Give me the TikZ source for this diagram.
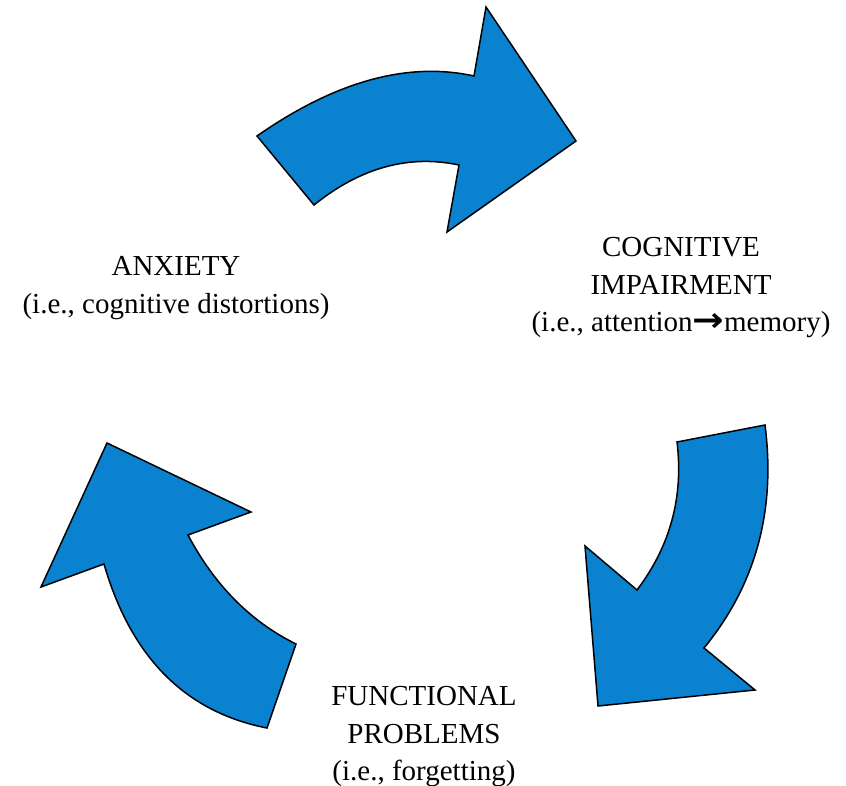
\documentclass[tikz,border=0pt]{standalone}
\usepackage{fontspec}
\setmainfont{Liberation Serif}
\newfontfamily\arrowfont{DejaVu Sans}
\usetikzlibrary{calc}
\definecolor{arrowblue}{RGB}{11,130,208}
\tikzset{
  bigarrow/.style={fill=arrowblue, draw=black, line width=1.5pt, line join=miter},
  label/.style={align=center, inner sep=0pt, font=\fontsize{29}{37.5}\selectfont}
}
\begin{document}
\begin{tikzpicture}[x=1pt,y=-1pt]
\useasboundingbox (0,0) rectangle (846,786);
% ---- top arrow
\coordinate (ta) at (257,136); \coordinate (tac) at (374.5,54); \coordinate (tb) at (474,76);
\coordinate (tn) at (459,165); \coordinate (tnc) at (383.5,149); \coordinate (td) at (314,205);
\draw[bigarrow] (ta) .. controls ($(ta)!0.6667!(tac)$) and ($(tb)!0.6667!(tac)$) .. (tb)
  -- (486,7) -- (576,141) -- (447,232) -- (tn)
  .. controls ($(tn)!0.6667!(tnc)$) and ($(td)!0.6667!(tnc)$) .. (td) -- cycle;
% ---- right arrow
\coordinate (ra) at (765,425); \coordinate (rac) at (781.5,553.5); \coordinate (rb) at (704,648);
\coordinate (rn) at (637,590); \coordinate (rnc) at (687,524); \coordinate (rd) at (677,442);
\draw[bigarrow] (ra) .. controls ($(ra)!0.6667!(rac)$) and ($(rb)!0.6667!(rac)$) .. (rb)
  -- (755,690) -- (598,706) -- (585,546) -- (rn)
  .. controls ($(rn)!0.6667!(rnc)$) and ($(rd)!0.6667!(rnc)$) .. (rd) -- cycle;
% ---- left arrow
\coordinate (la) at (267,728); \coordinate (lac) at (144.5,704); \coordinate (lb) at (104,564);
\coordinate (ln) at (188,535); \coordinate (lnc) at (228,610.5); \coordinate (ld) at (296,644);
\draw[bigarrow] (la) .. controls ($(la)!0.6667!(lac)$) and ($(lb)!0.6667!(lac)$) .. (lb)
  -- (41,587) -- (107,443) -- (251,512) -- (ln)
  .. controls ($(ln)!0.6667!(lnc)$) and ($(ld)!0.6667!(lnc)$) .. (ld) -- cycle;
% ---- labels
\node[label] (anx) at (176,288) {ANXIETY\\(i.e., cognitive distortions)};
\node[label] (cog) at (681,288) {COGNITIVE\\IMPAIRMENT\\(i.e., attention{\arrowfont\bfseries\scalebox{1.3}[1.15]{→}}memory)};
\node[label] (fun) at (424,737) {FUNCTIONAL\\PROBLEMS\\(i.e., forgetting)};
\end{tikzpicture}
\end{document}
